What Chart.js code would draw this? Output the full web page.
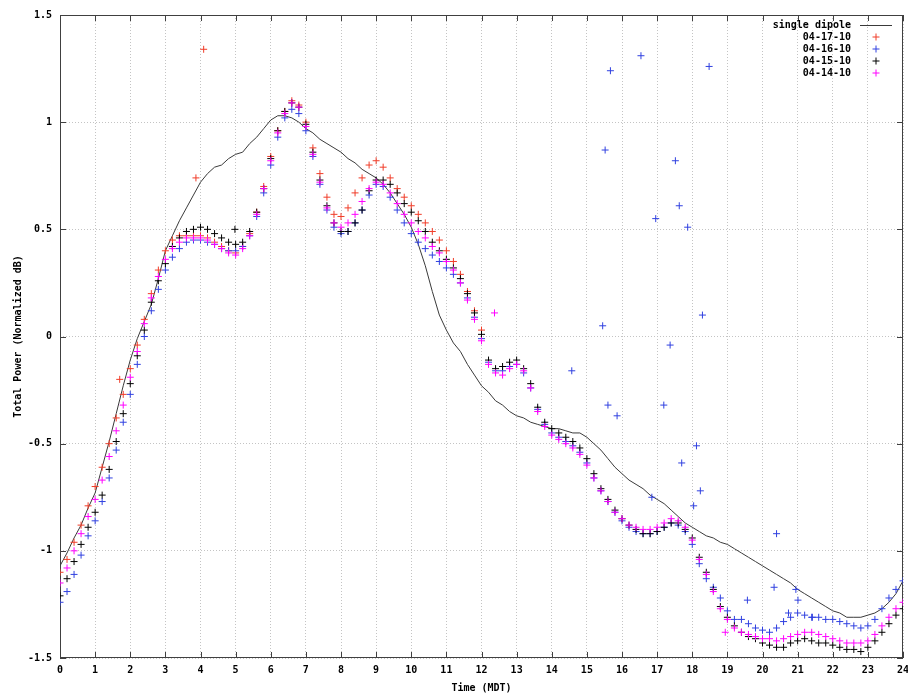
<!DOCTYPE html>
<html>
<head>
<meta charset="utf-8">
<title>Total Power</title>
<script src="https://cdn.jsdelivr.net/npm/chart.js@4.4.1/dist/chart.umd.min.js"></script>
<style>
  html, body { margin: 0; padding: 0; background: #fff; }
  #wrap { width: 908px; height: 696px; }
</style>
</head>
<body>
<div id="wrap"><canvas id="power-graph" width="908" height="696"></canvas></div>
<script>
'use strict';

// sample times (hours MDT), one reading every 0.2 h
var hours = [];
for (var i = 0; i <= 120; i++) { hours.push(Math.round(i * 2) / 10); }

var xTicks = [0, 1, 2, 3, 4, 5, 6, 7, 8, 9, 10, 11, 12, 13, 14, 15, 16, 17, 18, 19, 20, 21, 22, 23, 24];
var yTicks = [-1.5, -1, -0.5, 0, 0.5, 1, 1.5];

var dipole = [
  -1.07, -1.01, -0.94, -0.88, -0.80, -0.73, -0.61, -0.49, -0.36, -0.23,
  -0.11, -0.01, 0.07, 0.15, 0.27, 0.40, 0.47, 0.54, 0.60, 0.66,
  0.72, 0.76, 0.79, 0.80, 0.83, 0.85, 0.86, 0.90, 0.93, 0.97,
  1.01, 1.03, 1.03, 1.02, 1.00, 0.97, 0.95, 0.92, 0.90, 0.88,
  0.86, 0.83, 0.81, 0.78, 0.76, 0.74, 0.71, 0.67, 0.62, 0.57,
  0.51, 0.43, 0.33, 0.21, 0.10, 0.03, -0.03, -0.07, -0.13, -0.18,
  -0.23, -0.26, -0.30, -0.32, -0.35, -0.37, -0.38, -0.40, -0.41, -0.42,
  -0.43, -0.43, -0.44, -0.45, -0.45, -0.47, -0.50, -0.53, -0.57, -0.61,
  -0.64, -0.67, -0.69, -0.71, -0.74, -0.76, -0.78, -0.81, -0.84, -0.87,
  -0.89, -0.91, -0.93, -0.94, -0.96, -0.97, -0.99, -1.01, -1.03, -1.05,
  -1.07, -1.09, -1.11, -1.13, -1.15, -1.18, -1.20, -1.22, -1.24, -1.26,
  -1.28, -1.29, -1.31, -1.31, -1.31, -1.30, -1.29, -1.27, -1.24, -1.20,
  -1.14
];

var day0417 = [
  -1.10, -1.04, -0.96, -0.88, -0.79, -0.70, -0.61, -0.50, -0.38, -0.27,
  -0.15, -0.04, 0.08, 0.20, 0.31, 0.40, 0.45, 0.47, 0.47, 0.47,
  0.47, 0.46, 0.44, 0.42, 0.40, 0.39, 0.42, 0.48, 0.58, 0.70,
  0.84, 0.96, 1.05, 1.10, 1.08, 1.00, 0.88, 0.76, 0.65, 0.57,
  0.56, 0.60, 0.67, 0.74, 0.80, 0.82, 0.79, 0.74, 0.69, 0.65,
  0.61, 0.57, 0.53, 0.49, 0.45, 0.40, 0.35, 0.29, 0.21, 0.12,
  0.03
];
var day0417Extra = [[1.7, -0.20], [3.87, 0.74], [4.09, 1.34]];

var day0416 = [
  -1.24, -1.19, -1.11, -1.02, -0.93, -0.86, -0.77, -0.66, -0.53, -0.40,
  -0.27, -0.13, 0.00, 0.12, 0.22, 0.31, 0.37, 0.41, 0.44, 0.45,
  0.45, 0.44, 0.43, 0.41, 0.40, 0.40, 0.42, 0.47, 0.56, 0.67,
  0.80, 0.93, 1.02, 1.06, 1.04, 0.96, 0.84, 0.71, 0.59, 0.51,
  0.48, 0.49, 0.53, 0.59, 0.66, 0.71, 0.70, 0.65, 0.59, 0.53,
  0.48, 0.44, 0.41, 0.38, 0.35, 0.32, 0.29, 0.25, 0.18, 0.09,
  -0.01, -0.12, -0.16, -0.16, -0.14, -0.13, -0.17, -0.24, -0.34, -0.41,
  -0.45, -0.47, -0.49, -0.51, -0.54, -0.59, -0.66, -0.72, -0.77, -0.82,
  -0.86, -0.89, -0.91, -0.92, -0.92, -0.91, -0.89, -0.87, -0.88, -0.91,
  -0.97, -1.06, -1.13, -1.17, -1.22, -1.28, -1.32, -1.32, -1.34, -1.36,
  -1.37, -1.38, -1.36, -1.33, -1.31, -1.29, -1.30, -1.31, -1.31, -1.32,
  -1.32, -1.33, -1.34, -1.35, -1.36, -1.35, -1.32, -1.27, -1.22, -1.18,
  -1.14
];
var day0416Extra = [
  [14.57, -0.16], [15.45, 0.05], [15.52, 0.87], [15.6, -0.32], [15.67, 1.24],
  [15.86, -0.37], [16.54, 1.31], [16.85, -0.75], [16.96, 0.55], [17.19, -0.32],
  [17.37, -0.04], [17.52, 0.82], [17.63, 0.61], [17.7, -0.59], [17.87, 0.51],
  [18.04, -0.79], [18.12, -0.51], [18.23, -0.72], [18.29, 0.10], [18.48, 1.26],
  [19.57, -1.23], [20.33, -1.17], [20.4, -0.92], [20.74, -1.29], [20.95, -1.18],
  [21.01, -1.23], [21.42, -1.31]
];

var day0415 = [
  -1.21, -1.13, -1.05, -0.97, -0.89, -0.82, -0.74, -0.62, -0.49, -0.36,
  -0.22, -0.09, 0.03, 0.16, 0.26, 0.34, 0.42, 0.46, 0.49, 0.50,
  0.51, 0.50, 0.48, 0.46, 0.44, 0.43, 0.44, 0.49, 0.58, 0.69,
  0.83, 0.96, 1.05, 1.09, 1.07, 0.99, 0.86, 0.73, 0.61, 0.53,
  0.49, 0.49, 0.53, 0.59, 0.68, 0.73, 0.73, 0.71, 0.67, 0.62,
  0.58, 0.54, 0.49, 0.44, 0.40, 0.36, 0.32, 0.27, 0.20, 0.11,
  0.01, -0.11, -0.15, -0.14, -0.12, -0.11, -0.15, -0.22, -0.33, -0.40,
  -0.43, -0.45, -0.47, -0.49, -0.52, -0.57, -0.64, -0.71, -0.76, -0.81,
  -0.85, -0.88, -0.90, -0.92, -0.92, -0.91, -0.89, -0.87, -0.87, -0.90,
  -0.94, -1.03, -1.10, -1.18, -1.26, -1.31, -1.35, -1.38, -1.40, -1.41,
  -1.43, -1.44, -1.45, -1.45, -1.43, -1.42, -1.41, -1.42, -1.43, -1.43,
  -1.44, -1.45, -1.46, -1.46, -1.47, -1.45, -1.42, -1.38, -1.34, -1.30,
  -1.27
];
var day0415Extra = [[4.98, 0.50]];

var day0414 = [
  -1.15, -1.08, -1.00, -0.92, -0.84, -0.76, -0.67, -0.56, -0.44, -0.32,
  -0.19, -0.07, 0.06, 0.18, 0.28, 0.36, 0.41, 0.44, 0.46, 0.46,
  0.46, 0.45, 0.43, 0.41, 0.39, 0.38, 0.41, 0.47, 0.57, 0.69,
  0.82, 0.95, 1.04, 1.09, 1.07, 0.98, 0.85, 0.72, 0.60, 0.53,
  0.51, 0.53, 0.57, 0.63, 0.69, 0.72, 0.71, 0.67, 0.62, 0.57,
  0.53, 0.49, 0.46, 0.42, 0.39, 0.35, 0.31, 0.25, 0.17, 0.08,
  -0.02, -0.13, -0.17, -0.18, -0.15, -0.13, -0.16, -0.24, -0.35, -0.42,
  -0.46, -0.48, -0.50, -0.52, -0.55, -0.60, -0.66, -0.72, -0.77, -0.82,
  -0.85, -0.88, -0.89, -0.90, -0.90, -0.89, -0.87, -0.85, -0.86, -0.89,
  -0.95, -1.04, -1.11, -1.19, -1.27, -1.32, -1.36, -1.38, -1.39, -1.40,
  -1.41, -1.41, -1.42, -1.41, -1.40, -1.39, -1.38, -1.38, -1.39, -1.40,
  -1.41, -1.42, -1.43, -1.43, -1.43, -1.42, -1.39, -1.35, -1.31, -1.27,
  -1.24
];
var day0414Extra = [[12.37, 0.11], [18.94, -1.38]];

var MONO = '"DejaVu Sans Mono", "Liberation Mono", monospace';

// pair the readings with their times, then add the stray points
function toPoints(values, extra) {
  var pts = [];
  for (var i = 0; i < values.length; i++) {
    if (values[i] !== null) pts.push({ x: hours[i], y: values[i] });
  }
  (extra || []).forEach(function (p) { pts.push({ x: p[0], y: p[1] }); });
  return pts;
}

function crossSet(label, color, values, extra, order) {
  return {
    label: label,
    data: toPoints(values, extra),
    showLine: false,
    pointStyle: 'cross',
    pointRadius: 3.5,
    pointBorderWidth: 1,
    borderColor: color,
    backgroundColor: color,
    order: order
  };
}

// gnuplot style frame with inward tick marks
var framePlugin = {
  id: 'frame',
  beforeDatasetsDraw: function (chart) {
    var ctx = chart.ctx, a = chart.chartArea;
    var xs = chart.scales.x, ys = chart.scales.y;
    ctx.save();
    ctx.strokeStyle = '#404040';
    ctx.lineWidth = 1;
    ctx.strokeRect(a.left + 0.5, a.top + 0.5, a.right - a.left - 1, a.bottom - a.top - 1);
    ctx.beginPath();
    xTicks.forEach(function (t) {
      var px = Math.round(xs.getPixelForValue(t)) + 0.5;
      ctx.moveTo(px, a.bottom); ctx.lineTo(px, a.bottom - 6);
      ctx.moveTo(px, a.top); ctx.lineTo(px, a.top + 6);
    });
    yTicks.forEach(function (v) {
      var py = Math.round(ys.getPixelForValue(v)) + 0.5;
      ctx.moveTo(a.left, py); ctx.lineTo(a.left + 6, py);
      ctx.moveTo(a.right, py); ctx.lineTo(a.right - 6, py);
    });
    ctx.stroke();
    ctx.restore();
  }
};

// key in the top right corner: text first, sample after it
var keyPlugin = {
  id: 'key',
  afterDatasetsDraw: function (chart) {
    var ctx = chart.ctx, a = chart.chartArea;
    var textRight = a.right - 52;
    ctx.save();
    ctx.font = 'bold 10px ' + MONO;
    ctx.textAlign = 'right';
    ctx.textBaseline = 'middle';
    chart.data.datasets.forEach(function (ds, idx) {
      var y = a.top + 10 + idx * 12;
      ctx.fillStyle = '#000';
      ctx.fillText(ds.label, textRight, y);
      ctx.strokeStyle = ds.borderColor;
      ctx.lineWidth = 1;
      ctx.beginPath();
      if (ds.showLine) {
        ctx.moveTo(textRight + 9, y + 0.5); ctx.lineTo(textRight + 41, y + 0.5);
      } else {
        var cx = textRight + 25;
        ctx.moveTo(cx - 3.5, y); ctx.lineTo(cx + 3.5, y);
        ctx.moveTo(cx, y - 3.5); ctx.lineTo(cx, y + 3.5);
      }
      ctx.stroke();
    });
    ctx.restore();
  }
};

var tickFont = { family: MONO, size: 10, weight: 'bold' };

var ctx = document.getElementById('power-graph').getContext('2d');
var powerChart = new Chart(ctx, {
  type: 'scatter',
  data: {
    datasets: [
      {
        label: 'single dipole',
        data: toPoints(dipole),
        showLine: true,
        borderColor: '#3a3a3a',
        backgroundColor: '#3a3a3a',
        borderWidth: 1,
        pointRadius: 0,
        tension: 0,
        order: 5
      },
      crossSet('04-17-10', '#f03c28', day0417, day0417Extra, 4),
      crossSet('04-16-10', '#3040e0', day0416, day0416Extra, 3),
      crossSet('04-15-10', '#000000', day0415, day0415Extra, 2),
      crossSet('04-14-10', '#ff00ff', day0414, day0414Extra, 1)
    ]
  },
  options: {
    responsive: false,
    animation: false,
    devicePixelRatio: 1,
    layout: { padding: { top: 15, right: 4, left: 0, bottom: 0 } },
    plugins: {
      legend: { display: false },
      tooltip: { enabled: false }
    },
    scales: {
      x: {
        type: 'linear',
        min: 0,
        max: 24,
        afterFit: function (s) { s.height = 38; s.paddingLeft = 0; s.paddingRight = 0; },
        ticks: { stepSize: 1, padding: 6, color: '#000', font: tickFont, maxRotation: 0, autoSkip: false },
        grid: { color: '#c4c4c4', lineWidth: 1, drawTicks: false },
        border: { display: false, dash: [1, 2] },
        title: { display: true, text: 'Time (MDT)', color: '#000', font: tickFont, padding: { top: 0, bottom: 2 } }
      },
      y: {
        min: -1.5,
        max: 1.5,
        afterFit: function (s) { s.width = 60; s.paddingTop = 0; s.paddingBottom = 0; },
        ticks: {
          stepSize: 0.5,
          padding: 8,
          color: '#000',
          font: tickFont,
          callback: function (v) { return String(v); }
        },
        grid: { color: '#c4c4c4', lineWidth: 1, drawTicks: false },
        border: { display: false, dash: [1, 2] },
        title: { display: true, text: 'Total Power (Normalized dB)', color: '#000', font: tickFont, padding: { top: 12, bottom: 0 } }
      }
    }
  },
  plugins: [framePlugin, keyPlugin]
});
</script>
</body>
</html>
